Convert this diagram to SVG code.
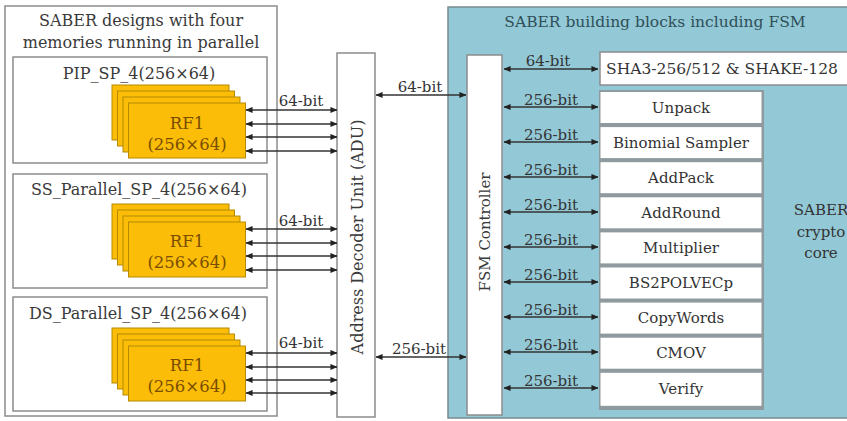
<svg xmlns="http://www.w3.org/2000/svg" width="847" height="421" viewBox="0 0 847 421">
<defs>
<marker id="ah" viewBox="0 0 8 8" refX="7.5" refY="4" markerWidth="7" markerHeight="7" markerUnits="userSpaceOnUse" orient="auto-start-reverse">
<path d="M0,0.5 L8,4 L0,7.5 Z" fill="#222"/>
</marker>
</defs>
<style>
text{font-family:"DejaVu Serif","Liberation Serif",serif;fill:#3a3a3a;text-anchor:middle;dominant-baseline:central}
.box{fill:#fff;stroke:#8c8c8c;stroke-width:1.5}
.rf{fill:#fbbd08;stroke:#b58a00;stroke-width:1}
.rft{fill:#7a4d00;font-size:16.5px}
.ttl{font-size:16px}
.lbl{font-size:15px;fill:#333}
.blk{font-size:15px;fill:#333}
.ln{stroke:#333;stroke-width:1.3;fill:none;marker-start:url(#ah);marker-end:url(#ah)}
</style>

<g id="left-panel">
<rect x="5" y="6" width="272" height="410" class="box"/>
<text x="141" y="20" class="ttl">SABER designs with four</text>
<text x="141" y="42" class="ttl">memories running in parallel</text>
</g>

<g id="pip">
<rect x="13" y="57" width="254" height="106" class="box"/>
<text x="139" y="73" class="ttl">PIP_SP_4(256×64)</text>
<rect x="112" y="85" width="117" height="55" class="rf"/>
<rect x="117.5" y="91" width="117" height="55" class="rf"/>
<rect x="123" y="97" width="117" height="55" class="rf"/>
<rect x="128.5" y="103" width="117" height="55" class="rf"/>
<text x="187" y="123" class="rft">RF1</text>
<text x="187" y="144" class="rft">(256×64)</text>
</g>

<g id="ss">
<rect x="13" y="174" width="254" height="114" class="box"/>
<text x="139" y="189" class="ttl">SS_Parallel_SP_4(256×64)</text>
<rect x="112" y="204" width="117" height="55" class="rf"/>
<rect x="117.5" y="210" width="117" height="55" class="rf"/>
<rect x="123" y="216" width="117" height="55" class="rf"/>
<rect x="128.5" y="222" width="117" height="55" class="rf"/>
<text x="187" y="241" class="rft">RF1</text>
<text x="187" y="262" class="rft">(256×64)</text>
</g>

<g id="ds">
<rect x="13" y="297" width="254" height="114" class="box"/>
<text x="138" y="313" class="ttl">DS_Parallel_SP_4(256×64)</text>
<rect x="112" y="328" width="117" height="55" class="rf"/>
<rect x="117.5" y="334" width="117" height="55" class="rf"/>
<rect x="123" y="340" width="117" height="55" class="rf"/>
<rect x="128.5" y="346" width="117" height="55" class="rf"/>
<text x="187" y="365" class="rft">RF1</text>
<text x="187" y="386" class="rft">(256×64)</text>
</g>

<g id="adu">
<rect x="337" y="53" width="38" height="364" class="box"/>
<text transform="translate(357,237) rotate(-90)" class="ttl">Address Decoder Unit (ADU)</text>
</g>

<g id="saber-core">
<rect x="448" y="7" width="405" height="411" fill="#93c9d6" stroke="#7a8a8e" stroke-width="1.5"/>
<text x="655" y="22" class="ttl" style="font-size:15.5px;fill:#2f4f58">SABER building blocks including FSM</text>
<text x="821" y="210" class="blk">SABER</text>
<text x="821" y="232" class="blk">crypto</text>
<text x="821" y="253" class="blk">core</text>
</g>

<g id="fsm">
<rect x="467" y="55" width="35" height="360" class="box"/>
<text transform="translate(485,232) rotate(-90)" class="ttl" style="font-size:15px">FSM Controller</text>
</g>

<g id="sha">
<rect x="600" y="52" width="260" height="33" class="box"/>
<text x="722" y="69" class="blk" style="font-size:15.5px">SHA3-256/512 &amp; SHAKE-128</text>
</g>

<g id="blocks-bg">
<rect x="599" y="90" width="165" height="320" fill="#8e9a9d"/>
</g>
<g id="unpack"><rect x="600.5" y="92" width="161" height="31" fill="#fff"/><text x="681" y="107.5" class="blk">Unpack</text></g>
<g id="binomial"><rect x="600.5" y="127.1" width="161" height="31" fill="#fff"/><text x="681" y="142.6" class="blk">Binomial Sampler</text></g>
<g id="addpack"><rect x="600.5" y="162.2" width="161" height="31" fill="#fff"/><text x="681" y="177.7" class="blk">AddPack</text></g>
<g id="addround"><rect x="600.5" y="197.3" width="161" height="31" fill="#fff"/><text x="681" y="212.8" class="blk">AddRound</text></g>
<g id="multiplier"><rect x="600.5" y="232.4" width="161" height="31" fill="#fff"/><text x="681" y="247.9" class="blk">Multiplier</text></g>
<g id="bs2polvecp"><rect x="600.5" y="267.5" width="161" height="31" fill="#fff"/><text x="681" y="283" class="blk">BS2POLVECp</text></g>
<g id="copywords"><rect x="600.5" y="302.6" width="161" height="31" fill="#fff"/><text x="681" y="318.1" class="blk">CopyWords</text></g>
<g id="cmov"><rect x="600.5" y="337.7" width="161" height="31" fill="#fff"/><text x="681" y="353.2" class="blk">CMOV</text></g>
<g id="verify"><rect x="600.5" y="372.8" width="161" height="33" fill="#fff"/><text x="681" y="389" class="blk">Verify</text></g>

<g id="connectors">
<line class="ln" x1="246" y1="110" x2="337" y2="110"/>
<line class="ln" x1="246" y1="124" x2="337" y2="124"/>
<line class="ln" x1="246" y1="137" x2="337" y2="137"/>
<line class="ln" x1="246" y1="151" x2="337" y2="151"/>
<line class="ln" x1="246" y1="229" x2="337" y2="229"/>
<line class="ln" x1="246" y1="243" x2="337" y2="243"/>
<line class="ln" x1="246" y1="256" x2="337" y2="256"/>
<line class="ln" x1="246" y1="270" x2="337" y2="270"/>
<line class="ln" x1="246" y1="353" x2="337" y2="353"/>
<line class="ln" x1="246" y1="367" x2="337" y2="367"/>
<line class="ln" x1="246" y1="380" x2="337" y2="380"/>
<line class="ln" x1="246" y1="393" x2="337" y2="393"/>
<line class="ln" x1="376" y1="95" x2="466" y2="95"/>
<line class="ln" x1="376" y1="357" x2="466" y2="357"/>
<line class="ln" x1="504" y1="69" x2="598" y2="69"/>
<line class="ln" x1="504" y1="107" x2="598" y2="107"/>
<line class="ln" x1="504" y1="142" x2="598" y2="142"/>
<line class="ln" x1="504" y1="177" x2="598" y2="177"/>
<line class="ln" x1="504" y1="212" x2="598" y2="212"/>
<line class="ln" x1="504" y1="247" x2="598" y2="247"/>
<line class="ln" x1="504" y1="282" x2="598" y2="282"/>
<line class="ln" x1="504" y1="317" x2="598" y2="317"/>
<line class="ln" x1="504" y1="352" x2="598" y2="352"/>
<line class="ln" x1="504" y1="388" x2="598" y2="388"/>
</g>

<g id="labels">
<text x="301" y="101" class="lbl">64-bit</text>
<text x="301" y="221" class="lbl">64-bit</text>
<text x="301" y="343" class="lbl">64-bit</text>
<text x="420" y="87" class="lbl">64-bit</text>
<text x="419" y="349" class="lbl">256-bit</text>
<text x="548" y="61" class="lbl">64-bit</text>
<text x="551" y="100" class="lbl">256-bit</text>
<text x="551" y="135" class="lbl">256-bit</text>
<text x="551" y="170" class="lbl">256-bit</text>
<text x="551" y="205" class="lbl">256-bit</text>
<text x="551" y="240" class="lbl">256-bit</text>
<text x="551" y="275" class="lbl">256-bit</text>
<text x="551" y="310" class="lbl">256-bit</text>
<text x="551" y="345" class="lbl">256-bit</text>
<text x="551" y="381" class="lbl">256-bit</text>
</g>
</svg>
